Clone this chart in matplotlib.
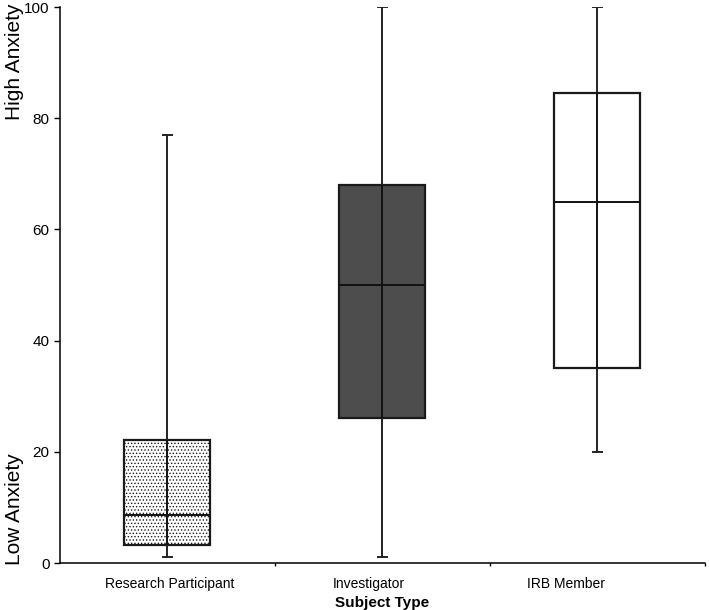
import numpy as np
import matplotlib
matplotlib.use("Agg")
import matplotlib.pyplot as plt

plt.rcParams['font.family'] = ['Liberation Sans', 'DejaVu Sans']
plt.rcParams['hatch.linewidth'] = 0.6
plt.rcParams['hatch.color'] = '#444444'

# DATA
groups = ['Research Participant', 'Investigator', 'IRB Member']
whisker_low = [1, 1, 20]
q1 = [3.2, 26, 35]
median = [8.6, 50, 65]
q3 = [22.1, 68, 84.5]
whisker_high = [77, 100, 100]
y_ticks = [0, 20, 40, 60, 80, 100]

fills = ['white', '#4d4d4d', 'white']
hatches = ['.....', None, None]
label_shift = [0.01, -0.065, -0.145]   # category labels sit a bit left of the boxes

stats = []
for i, g in enumerate(groups):
    stats.append(dict(label=g, whislo=whisker_low[i], q1=q1[i], med=median[i],
                      q3=q3[i], whishi=whisker_high[i], fliers=[]))

fig = plt.figure(figsize=(7.09, 6.10), dpi=100)
ax = fig.add_axes([0.0846, 0.077, 0.9094, 0.9115])

pos = np.arange(len(groups))
bp = ax.bxp(stats, positions=pos, widths=0.40, patch_artist=True,
            showfliers=False, capwidths=0.04,
            boxprops=dict(linewidth=1.6, edgecolor='#1a1a1a'),
            medianprops=dict(color='#111111', linewidth=1.4),
            whiskerprops=dict(color='#222222', linewidth=1.4),
            capprops=dict(color='#222222', linewidth=1.4))
for patch, fc, h in zip(bp['boxes'], fills, hatches):
    patch.set_facecolor(fc)
    if h:
        patch.set_hatch(h)

# whisker line drawn through the box too
ax.vlines(pos, q1, q3, color='#111111', linewidth=1.4, zorder=3)

ax.set_xlim(-0.5, 2.5)
ax.set_ylim(0, 100)
ax.set_yticks(y_ticks)
ax.tick_params(axis='y', labelsize=11, length=4, width=1)
ax.set_xticks(pos + 0.5)
ax.set_xticklabels([])
ax.tick_params(axis='x', length=2, width=1)
for p, g, d in zip(pos, groups, label_shift):
    ax.text(p + d, -2.5, g, ha='center', va='top', fontsize=10)
ax.text(1.0, -6.0, 'Subject Type', ha='center', va='top', fontsize=11, fontweight='bold')

for s in ['top', 'right']:
    ax.spines[s].set_visible(False)
for s in ['left', 'bottom']:
    ax.spines[s].set_linewidth(1.1)

fig.text(0.021, 0.898, 'High Anxiety', rotation=90, ha='center', va='center', fontsize=15)
fig.text(0.021, 0.165, 'Low Anxiety', rotation=90, ha='center', va='center', fontsize=15)

fig.savefig('out.png', dpi=100)
